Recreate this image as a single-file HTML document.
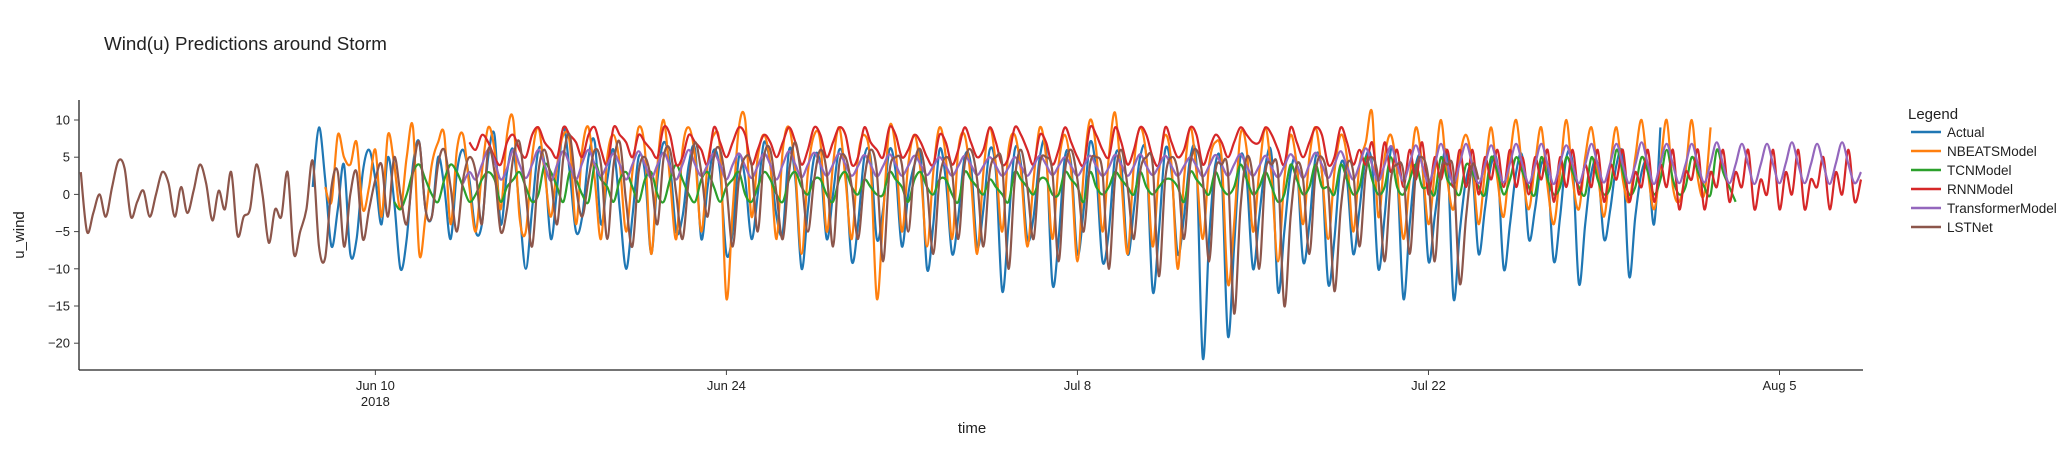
<!DOCTYPE html>
<html><head><meta charset="utf-8"><style>
body{margin:0;background:#fff;}
svg{display:block;font-family:"Liberation Sans","DejaVu Sans",sans-serif;}
</style></head><body>
<svg id="chart" width="2067" height="450" viewBox="0 0 2067 450">
<text x="104" y="50" font-size="18.8" fill="#222">Wind(u) Predictions around Storm</text>
<g id="yaxis"></g>
<g id="xaxis"></g>
<g id="series"></g>
<text x="972" y="433" font-size="15" text-anchor="middle" fill="#222">time</text>
<text transform="translate(24,235) rotate(-90)" font-size="15" text-anchor="middle" fill="#222">u_wind</text>
<g id="legend">
<text x="1908" y="119" font-size="15" fill="#222">Legend</text>
</g>
</svg>
<script>
// ---- data (day 0 = Jun 10 2018, step = 6 hours) ----
const yTicks = [10, 5, 0, -5, -10, -15, -20];
const xTickDays = [0, 14, 28, 42, 56];
const xTickLabels = ["Jun 10", "Jun 24", "Jul 8", "Jul 22", "Aug 5"];
const seriesNames = ["Actual","NBEATSModel","TCNModel","RNNModel","TransformerModel","LSTNet"];
const seriesStarts = [-2.5, -2.0, 0.75, 3.75, 3.5, -11.75];

const actualValues = [1,9, 2,-7,-2,4, -8,-6,3,6, 2,-4,5,-1, -10,-6,4,7, -2,-3,5,1, -6,3,6,2, -5,-4,5,8, -4,3,6,-2, -10,-2,6,4, -6,1,9,3, -5,-3,5,7, -4,2,6,-2, -10,-3,5,3, -8,2,7,4, -5,-3,4,6, -6,1,6,3, -8,-5,5,2, -6,0,7,4, -3,-5,6,2, -10,-2,5,4, -6,0,6,3, -9,-4,5,5, -6,-2,6,3, -7,0,4,5, -10,-4,6,2, -8,-3,5,4, -7,-2,6,3, -13,-4,6,4, -6,-3,5,6, -12,-6,5,4, -8,-2,7,3, -9,-5,5,4, -8,-2,5,5, -13,-5,6,3, -8,-3,5,4, -22,-6,4,3, -19,-7,5,2, -10,-3,4,5, -13,-5,3,4, -9,-4,5,3, -12,-6,4,2, -8,-2,5,4, -10,-3,6,3, -14,-4,4,4, -9,-3,3,5, -14,-5,2,3, -8,-2,4,4, -10,-4,3,5, -6,-2,4,3, -9,-3,5,4, -12,-4,3,4, -6,-2,4,5, -11,-3,3,4, -4,9];
const nbeatsValues = [1,-1,8,5, 4,7,-2,1, 6,-3,8,4, -2,5,9,-8, -3,4,7,8, -4,6,8,1, -5,3,9,6, -2,8,10,-3, -5,5,9,3, -3,4,8,7, -4,6,9,2, -6,5,8,4, -5,3,9,6, -8,4,10,2, -6,6,9,5, -5,4,8,6, -14,-2,9,10, -3,5,8,4, -6,6,9,3, -8,3,8,7, -5,4,9,2, -6,5,8,4, -14,-3,9,6, -5,4,8,3, -7,3,9,5, -6,6,8,2, -8,3,9,4, -5,6,8,3, -7,2,9,5, -6,4,8,3, -9,3,10,6, -5,5,11,2, -8,4,9,5, -7,3,8,4, -10,2,9,3, -6,4,7,5, -12,-4,8,6, -5,3,9,2, -9,2,8,4, -4,5,9,3, -6,3,8,5, -5,4,7,11, -3,5,8,3, -6,2,9,4, -4,3,10,2, -2,5,8,4, -4,3,9,2, -3,5,10,3, -2,4,9,1, -4,3,10,2, -2,5,9,3, -3,4,9,2, -1,5,10,3, -2,4,10,1, -1,3,10,2, 0,9];
const tcnValues = [-1, -2,0,3,4, 2,0,-1,2, 4,3,1,-1, 0,2,3,2, -1,1,2,3, 1,-1,0,4, 3,1,-1,3, 2,0,-1,4, 2,1,-1,2, 3,1,-1,2, 3,0,-1,2, 4,2,0,-1, 2,3,1,-1, 1,2,3,0, -1,1,3,2, 0,-1,2,3, 1,0,2,2, 0,-1,2,3, 1,0,2,1, 0,0,3,2, 1,-1,2,3, 1,0,2,2, 0,-1,3,2, 1,0,2,1, 0,-1,3,2, 1,0,2,2, 0,0,3,2, 1,-1,3,1, 0,1,3,2, 1,0,3,1, 0,1,2,2, 1,-1,3,2, 1,0,3,1, 0,1,4,2, 0,1,3,1, -1,0,4,2, 0,1,4,1, 1,0,4,2, 0,1,5,2, 0,1,5,1, 0,2,4,1, 1,0,5,2, 1,0,4,3, 1,0,5,3, 0,2,5,3, 1,0,5,2, 0,1,5,3, 1,0,5,2, 0,1,6,3, 0,1,5,3, 0,2,6,2, 0,1,5,3, 1,0,6,3, 1,-1];
const rnnValues = [7, 6,8,7,5, 4,7,8,6, 5,8,9,7, 6,5,9,8, 7,5,8,9, 6,4,9,8, 7,5,8,7, 6,5,9,8, 4,5,8,7, 6,4,9,7, 5,7,9,8, 4,6,8,7, 5,7,9,7, 4,6,9,8, 5,7,9,8, 4,5,9,7, 6,5,9,8, 5,6,8,7, 5,4,8,7, 4,6,9,7, 5,6,9,7, 4,5,9,8, 6,4,8,7, 4,6,9,7, 5,4,9,8, 6,5,9,7, 4,6,9,8, 5,4,9,7, 5,6,9,8, 4,6,8,7, 5,7,9,8, 7,7,9,8, 6,4,9,7, 5,7,9,8, 4,5,9,7, 4,6,4,7, 2,7,3,6, 1,6,2,7, 0,5,2,6, 1,6,1,6, 0,5,2,6, 1,6,1,5, 0,5,2,6, -1,5,1,6, 0,4,1,6, -1,4,2,6, -1,3,1,6, -1,4,1,6, -2,3,2,6, -2,3,1,6, -1,3,1,6, -2,2,0,6, -2,3,0,6, -2,2,1,5, -2,3,0,6, -1,2];
const transformerValues = [1.5,3, 2,4,6,4.5, 2,3.5,6,4, 2.2,4,6,4, 1.8,4,5.8,4, 2,4.2,6,4, 2.5,4,5.5,4, 2,4,5.8,4, 2.2,4,5.6,3.8, 2,4,6,4, 2.5,4,5.5,4, 2,4,5.5,3.8, 2.2,3.8,5.5,4, 2,4,5.8,4, 2.3,4,5.6,4, 2.5,4,5.5,4, 2.5,3.8,5.3,4, 2.4,3.8,5.4,4, 2.5,3.8,5.2,4, 2.6,3.8,5,3.8, 2.5,3.8,5.2,4, 2.6,3.8,5,3.8, 2.5,3.6,5,3.8, 2.5,3.8,5.2,4, 2.6,3.8,5,3.8, 2.5,3.8,5.2,3.8, 2.5,3.6,5.3,4, 2.5,3.8,5.4,3.8, 2.6,3.8,5.2,3.8, 2.5,3.8,5,3.8, 2.4,3.8,5.3,4, 2.5,4,5.4,3.8, 2.5,3.8,5.2,3.6, 2.3,3.8,5.4,4, 2.2,4,5.6,4, 2.2,4,5.8,3.8, 2,4,6.2,4, 1.8,4,6.5,4, 1.8,4.2,6.6,4, 1.6,4,6.8,4, 1.5,4.2,6.8,4, 1.5,4,6.6,4, 1.6,4.2,6.8,4, 1.5,4,6.8,4, 1.4,4.2,6.6,4, 1.5,4,6.8,4, 1.6,4.2,6.8,4, 1.5,4,7,4, 1.4,4.2,6.8,4, 1.5,4,6.8,4, 1.6,4.2,7,4, 1.5,4,6.8,4, 1.4,4,6.8,4, 1.5,4.2,7,4, 1.5,4,6.8,4, 1.4,4.2,7,4, 1.5,3];
const lstnetValues = [3,-5,-2.5,0,-3,1,4.5,3.5,-3,-1,0.5,-3,0,3,1.5,-3,1,-2.5,0.5,4,1.5,-3.5,0.5,-2,3,-5.5,-3,-2,4,0,-6.5,-2,-3,3,-8,-5,-2,4.5,-7,-8.5, 1,3,-7,0, 3,-6,-2,2, 4,-3,5,0, -4,3,7,-2, -3,4,6,1, -5,2,5,3, -4,6,3,-5, -2,5,7,0, -7,3,6,2, -4,5,8,1, -3,2,6,4, -6,4,7,-1, -7,3,5,2, -4,5,6,0, -6,2,7,3, -3,5,6,1, -7,2,5,4, -5,5,6,0, -6,3,7,2, -5,2,6,3, -7,4,5,1, -6,2,6,3, -9,3,5,4, -5,4,6,1, -8,2,5,3, -6,4,6,2, -7,3,5,4, -10,2,6,1, -6,4,5,3, -9,3,6,2, -5,4,5,3, -10,2,6,1, -6,3,5,4, -11,2,5,3, -6,4,6,2, -9,3,4,3, -16,-2,5,2, -10,3,4,3, -15,-3,4,2, -8,3,5,1, -13,-2,4,3, -7,3,5,2, -9,2,4,3, -8,3,5,2, -9,3,4,3, -12,-3,4,2];

const allValues = [actualValues, nbeatsValues, tcnValues, rnnValues, transformerValues, lstnetValues];
const colors = ["#1f77b4","#ff7f0e","#2ca02c","#d62728","#9467bd","#8c564b"];
const seriesKeys = ["actual","nbeats","tcn","rnn","transformer","lstnet"];

// ---- axes ----
const PX = {left:79, right:1863, top:100, bottom:370};
const dayMin = -11.82, dayMax = 59.33;
function xScale(d){ return PX.left + (d - dayMin) / (dayMax - dayMin) * (PX.right - PX.left); }
const y0 = 194.4, yPerUnit = 7.44;
function yScale(v){ return y0 - v * yPerUnit; }
const NS = "http://www.w3.org/2000/svg";
function mk(tag, attrs, parent){ const e = document.createElementNS(NS, tag); for (const k in attrs) e.setAttribute(k, attrs[k]); parent.appendChild(e); return e; }

const ya = document.getElementById('yaxis');
const yl = mk('line', {x1:PX.left, x2:PX.left, y1:PX.top, y2:PX.bottom, stroke:"#222", "stroke-width":1.3}, ya);


yTicks.forEach(v => {
  const y = yScale(v);
  const t = mk('line', {x1:PX.left-5, x2:PX.left, y1:y, y2:y, stroke:"#444", "stroke-width":1}, ya);
  
  
  const tx = mk('text', {x:PX.left-9, y:y+4.5, "font-size":13, "text-anchor":"end", fill:"#222"}, ya);
  
  
  tx.textContent = v < 0 ? "\u2212" + Math.abs(v) : String(v);
});
const xa = document.getElementById('xaxis');
const xl = mk('line', {x1:PX.left, x2:PX.right, y1:PX.bottom, y2:PX.bottom, stroke:"#222", "stroke-width":1.3}, xa);


xTickDays.forEach((d, i) => {
  const x = xScale(d);
  const t = mk('line', {x1:x, x2:x, y1:PX.bottom, y2:PX.bottom+5, stroke:"#444", "stroke-width":1}, xa);
  
  
  const tx = mk('text', {x:x, y:390, "font-size":13, "text-anchor":"middle", fill:"#222"}, xa);
  
  
  tx.textContent = xTickLabels[i];
});
const yr = mk('text', {x:xScale(0), y:406, "font-size":13, "text-anchor":"middle", fill:"#222"}, xa);


yr.textContent = "2018";

// ---- series (Catmull-Rom smoothed) ----
function smoothPath(p){
  let d = "M" + p[0][0].toFixed(1) + "," + p[0][1].toFixed(1);
  for (let i = 0; i < p.length - 1; i++) {
    const p0 = p[Math.max(0, i-1)], p1 = p[i], p2 = p[i+1], p3 = p[Math.min(p.length-1, i+2)];
    const c1x = p1[0] + (p2[0]-p0[0])/6, c1y = p1[1] + (p2[1]-p0[1])/6;
    const c2x = p2[0] - (p3[0]-p1[0])/6, c2y = p2[1] - (p3[1]-p1[1])/6;
    d += "C" + c1x.toFixed(1) + "," + c1y.toFixed(1) + " " + c2x.toFixed(1) + "," + c2y.toFixed(1) + " " + p2[0].toFixed(1) + "," + p2[1].toFixed(1);
  }
  return d;
}
const sg = document.getElementById('series');
allValues.forEach((vals, si) => {
  const pts = vals.map((v, i) => [xScale(seriesStarts[si] + i * 0.25), yScale(v)]);
  const p = mk('path', {d: smoothPath(pts), fill:"none", stroke:colors[si], "stroke-width":2.2, "stroke-linejoin":"round"}, sg);
  
  
});

// ---- legend ----
const lg = document.getElementById('legend');
seriesNames.forEach((n, i) => {
  const y = 132 + i * 19;
  const g = mk('g', {}, lg);
  
  
  mk('line', {x1:1911, x2:1941, y1:y, y2:y, stroke:colors[i], "stroke-width":2.4}, g);
  const t = mk('text', {x:1947, y:y+5, "font-size":13.5, fill:"#222"}, g);
  t.textContent = n;
});
</script>
</body></html>
